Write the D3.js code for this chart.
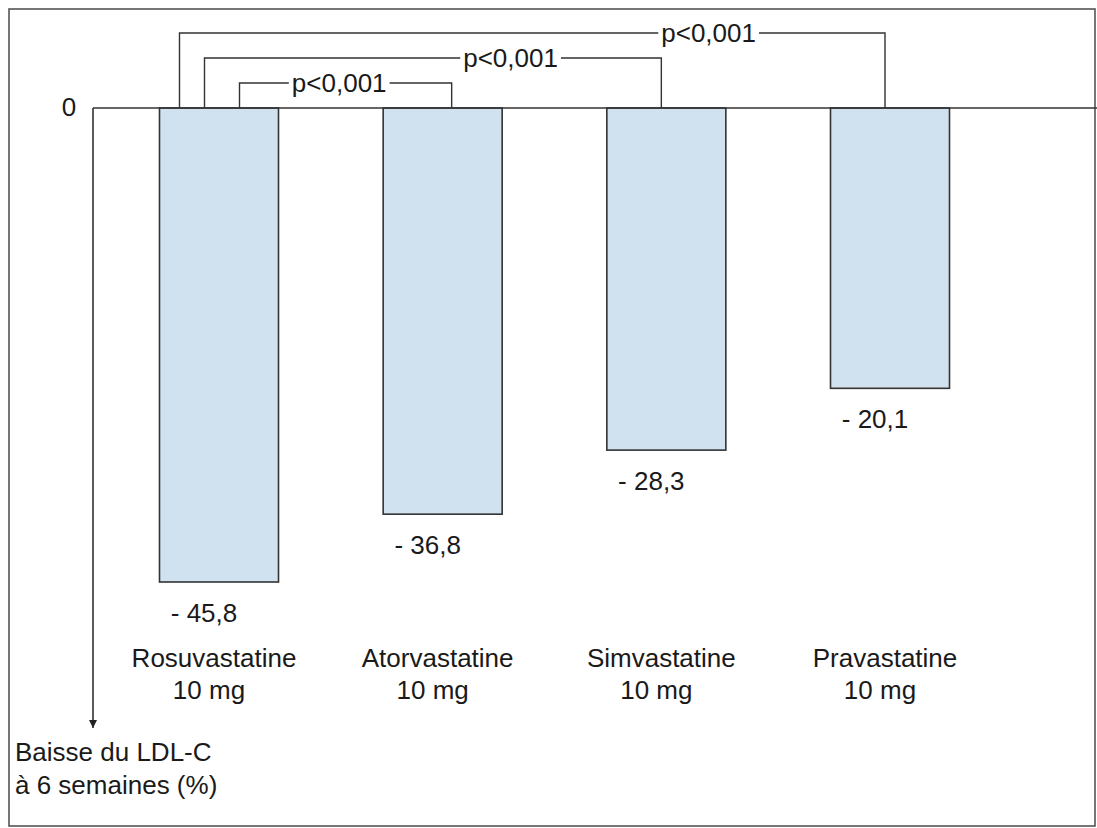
<!DOCTYPE html>
<html><head><meta charset="utf-8">
<script src="https://cdn.jsdelivr.net/npm/d3@7"></script>
<style>
html,body{margin:0;padding:0;background:#fff;}
text{font-family:"Liberation Sans",Arial,sans-serif;fill:#1a1a1a;}
</style></head>
<body>
<svg id="chart" width="1097" height="828"></svg>
<script>
// ---- data ----
const categories = ["Rosuvastatine", "Atorvastatine", "Simvastatine", "Pravastatine"];
const doses = ["10 mg", "10 mg", "10 mg", "10 mg"];
const values = [-45.8, -36.8, -28.3, -20.1];
const valueLabels = ["- 45,8", "- 36,8", "- 28,3", "- 20,1"];
const comparisons = [
  {from: "Rosuvastatine", to: "Atorvastatine", label: "p<0,001"},
  {from: "Rosuvastatine", to: "Simvastatine", label: "p<0,001"},
  {from: "Rosuvastatine", to: "Pravastatine", label: "p<0,001"}
];
const yTickLabels = ["0"];
const yAxisTitle = ["Baisse du LDL-C", "à 6 semaines (%)"];

// ---- layout ----
const svg = d3.select("#chart");
const fs = 26;
const zeroY = 108;
const axisX = 93;

// original figure is not drawn to scale from 0: bars are offset
const y = d3.scaleLinear().domain([17.1, -45.8]).range([zeroY, 582]);
const x = d3.scalePoint().domain(categories).range([219, 890]);
const barW = 119;

// frame
svg.append("rect").attr("x", 9).attr("y", 9).attr("width", 1086).attr("height", 817)
  .attr("fill", "none").attr("stroke", "#555").attr("stroke-width", 1.6);

// bars
svg.selectAll("rect.bar").data(categories).join("rect").attr("class", "bar")
  .attr("x", d => x(d) - barW / 2)
  .attr("y", zeroY)
  .attr("width", barW)
  .attr("height", (d, i) => y(values[i]) - zeroY)
  .attr("fill", "#d0e1ef")
  .attr("stroke", "#333").attr("stroke-width", 1.6);

// zero line
svg.append("line").attr("x1", axisX).attr("x2", 1097).attr("y1", zeroY).attr("y2", zeroY)
  .attr("stroke", "#333").attr("stroke-width", 1.6);

// y axis with arrow
svg.append("defs").append("marker").attr("id", "arr")
  .attr("viewBox", "0 0 10 10").attr("refX", 10).attr("refY", 5)
  .attr("markerWidth", 8).attr("markerHeight", 8).attr("markerUnits", "userSpaceOnUse")
  .attr("orient", "auto")
  .append("path").attr("d", "M0,0L10,5L0,10z").attr("fill", "#222");
svg.append("line").attr("x1", axisX).attr("x2", axisX).attr("y1", zeroY).attr("y2", 728)
  .attr("stroke", "#333").attr("stroke-width", 1.6).attr("marker-end", "url(#arr)");

svg.append("text").attr("x", 69).attr("y", zeroY + 8).attr("text-anchor", "middle")
  .attr("font-size", fs).text(yTickLabels[0]);

// axis title
yAxisTitle.forEach((t, i) => {
  svg.append("text").attr("x", 15).attr("y", 761 + i * 33).attr("font-size", fs).text(t);
});

// value labels
svg.selectAll("text.val").data(categories).join("text").attr("class", "val")
  .attr("x", d => x(d) - 15)
  .attr("y", (d, i) => y(values[i]) + 40)
  .attr("text-anchor", "middle").attr("font-size", fs)
  .text((d, i) => valueLabels[i]);

// category labels
svg.selectAll("text.cat").data(categories).join("text").attr("class", "cat")
  .attr("x", d => x(d) - 5).attr("y", 667)
  .attr("text-anchor", "middle").attr("font-size", fs).text(d => d);
svg.selectAll("text.dose").data(categories).join("text").attr("class", "dose")
  .attr("x", d => x(d) - 10).attr("y", 699)
  .attr("text-anchor", "middle").attr("font-size", fs).text((d, i) => doses[i]);

// significance brackets
const legOffsets = [80, 45, 20];     // from left edge of first bar
const levels = [83, 58, 33];         // bracket heights
const labelPos = [0.47, 0.67, 0.75]; // label position along bracket
comparisons.forEach((c, i) => {
  const x1 = x(c.from) - barW / 2 + legOffsets[i];
  const x2 = x(c.to) + (i === 0 ? 9 : i === 1 ? -5 : -5);
  const yl = levels[i];
  const cx = x1 + (x2 - x1) * labelPos[i];
  const t = svg.append("text").attr("x", cx).attr("y", yl + 9)
    .attr("text-anchor", "middle").attr("font-size", fs).text(c.label);
  const w = t.node().getComputedTextLength();
  const g = 3;
  svg.append("path")
    .attr("d", `M${x1},${zeroY}V${yl}H${cx - w / 2 - g}M${cx + w / 2 + g},${yl}H${x2}V${zeroY}`)
    .attr("fill", "none").attr("stroke", "#333").attr("stroke-width", 1.4);
});
</script>
</body></html>
